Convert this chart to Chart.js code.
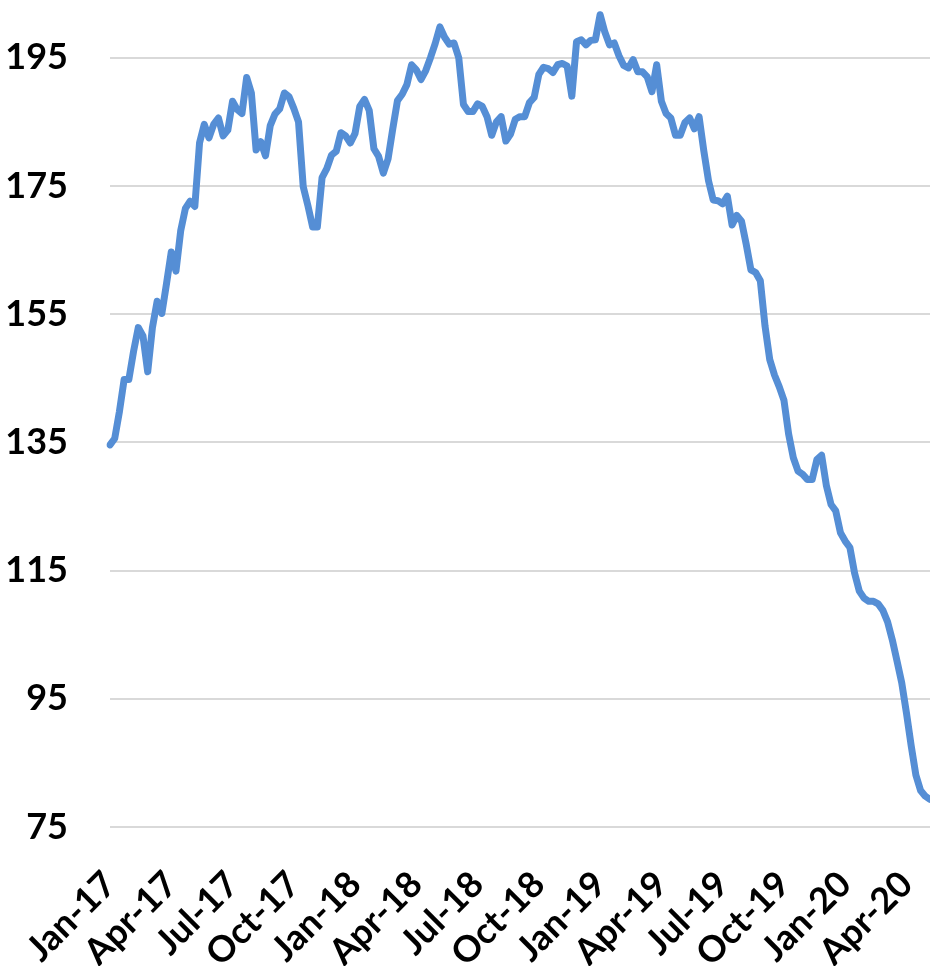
<!DOCTYPE html>
<html>
<head>
<meta charset="utf-8">
<script src="https://cdn.jsdelivr.net/npm/chart.js@4.4.1/dist/chart.umd.min.js"></script>
<style>
  html, body { margin: 0; padding: 0; background: #fff; }
  #wrap { width: 930px; height: 966px; }
</style>
</head>
<body>
<div id="wrap"><canvas id="chart" width="930" height="966"></canvas></div>
<script>
// weekly readings, first week of Jan 2017 onwards
const values2017 = [
  134.6, 135.6, 139.8, 144.8, 144.8, 149.2, 152.9, 151.6, 146.0, 152.9,
  157.0, 155.1, 159.8, 164.7, 161.7, 168.0, 171.5, 172.6, 171.8, 181.7,
  184.6, 182.5, 184.6, 185.6, 182.8, 183.7, 188.2, 186.9, 186.3, 191.9,
  189.5, 180.6, 181.9, 179.7, 184.4, 186.2, 187.0, 189.5, 188.9, 187.1,
  185.0, 174.9, 171.9, 168.6, 168.6, 176.3, 177.7, 179.8, 180.4, 183.3,
  182.8, 181.7,
];
const values2018 = [
  183.2, 187.4, 188.5, 186.8, 180.8, 179.6, 177.0, 179.2, 183.9, 188.3,
  189.3, 190.8, 193.9, 193.1, 191.6, 193.0, 195.0, 197.2, 199.8, 198.2,
  197.1, 197.3, 195.0, 187.7, 186.6, 186.6, 187.8, 187.4, 185.8, 182.9,
  185.0, 185.8, 182.0, 183.1, 185.4, 185.8, 185.8, 188.0, 188.8, 192.4,
  193.5, 193.3, 192.7, 193.9, 194.1, 193.7, 189.0, 197.5, 197.8, 197.0,
  197.7, 197.8,
];
const values2019 = [
  201.7, 199.0, 197.0, 197.3, 195.3, 193.8, 193.4, 194.7, 192.8, 192.8,
  192.0, 189.7, 193.9, 188.2, 186.3, 185.6, 182.9, 182.9, 184.9, 185.6,
  183.9, 185.8, 180.5, 175.8, 172.8, 172.7, 172.2, 173.4, 168.9, 170.4,
  169.5, 165.9, 161.9, 161.5, 160.2, 153.1, 147.9, 145.5, 143.7, 141.6,
  136.3, 132.6, 130.5, 130.0, 129.2, 129.2, 132.3, 133.0, 128.3, 125.3,
  124.3, 120.9,
];
const values2020 = [
  119.6, 118.6, 114.6, 111.8, 110.7, 110.2, 110.2, 109.8, 108.8, 107.0,
  104.2, 100.9, 97.5, 92.8, 87.7, 83.1, 80.7, 79.8, 79.3,
];
const values = [...values2017, ...values2018, ...values2019, ...values2020];

const quarterLabels = [
  "Jan-17", "Apr-17", "Jul-17", "Oct-17",
  "Jan-18", "Apr-18", "Jul-18", "Oct-18",
  "Jan-19", "Apr-19", "Jul-19", "Oct-19",
  "Jan-20", "Apr-20",
];
const yTicks = [75, 95, 115, 135, 155, 175, 195];

const monthNames = ["Jan", "Feb", "Mar", "Apr", "May", "Jun", "Jul", "Aug", "Sep", "Oct", "Nov", "Dec"];
const firstWeek = Date.UTC(2017, 0, 6);
const weeks = values.map((_, i) => new Date(firstWeek + i * 7 * 86400000));

const tickFont = { family: "Lato", size: 36, weight: "bold" };

// keep the plot area flush with the canvas edges, like the cropped original
const noPadding = (axis) => {
  axis.paddingLeft = 0;
  axis.paddingRight = 0;
  axis.paddingTop = 0;
  axis.paddingBottom = 0;
};

new Chart("chart", {
  type: "line",
  data: {
    labels: weeks,
    datasets: [
      {
        data: values,
        borderColor: "#558ED5",
        borderWidth: 7,
        borderJoinStyle: "round",
        borderCapStyle: "round",
        pointRadius: 0,
        tension: 0,
      },
    ],
  },
  options: {
    responsive: false,
    animation: false,
    layout: { padding: 0 },
    plugins: {
      legend: { display: false },
      tooltip: { enabled: false },
    },
    scales: {
      x: {
        grid: { display: false },
        border: { display: false },
        afterFit: (axis) => { axis.height = 139; noPadding(axis); },
        ticks: {
          autoSkip: false,
          minRotation: 45,
          maxRotation: 45,
          padding: 28,
          color: "#000",
          font: tickFont,
          callback: function (value) {
            const d = weeks[value];
            if (d.getUTCDate() > 7) return "";
            const lab = monthNames[d.getUTCMonth()] + "-" + String(d.getUTCFullYear()).slice(2);
            return quarterLabels.includes(lab) ? lab : "";
          },
        },
      },
      y: {
        min: 75,
        max: 204,
        grid: { color: "#d9d9d9", lineWidth: 2, drawTicks: false },
        border: { display: false },
        afterFit: (axis) => { axis.width = 110; noPadding(axis); },
        afterBuildTicks: (axis) => { axis.ticks = yTicks.map((v) => ({ value: v })); },
        ticks: {
          padding: 42,
          color: "#000",
          font: tickFont,
        },
      },
    },
  },
});
</script>
</body>
</html>
